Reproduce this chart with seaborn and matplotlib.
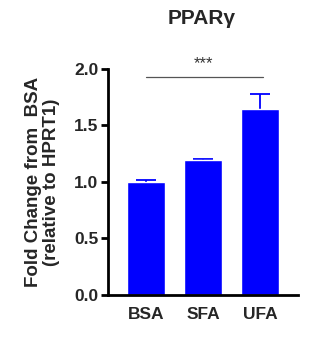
import matplotlib
matplotlib.use("Agg")
import matplotlib.pyplot as plt
import seaborn as sns
import pandas as pd
import numpy as np

categories = ["BSA", "SFA", "UFA"]
means = [1.00, 1.195, 1.645]
sems = [0.022, 0.008, 0.13]
title = "PPARγ"
ylabel = "Fold Change from  BSA\n(relative to HPRT1)"
yticks = [0.0, 0.5, 1.0, 1.5, 2.0]
sig_text = "***"
sig_level = 1.93

sns.set_theme(style="white")
plt.rcParams["font.family"] = ["Liberation Sans", "DejaVu Sans"]

df = pd.DataFrame({"group": categories, "value": means})

fig = plt.figure(figsize=(3.29, 3.39), dpi=100)
ax = fig.add_axes([0.328, 0.1298, 0.578, 0.6667])

sns.barplot(data=df, x="group", y="value", color="#0000ff", saturation=1,
            width=0.667, errorbar=None, ax=ax)
for p in ax.patches:
    p.set_zorder(3)
xs = np.arange(len(categories))
tops = np.array(means) + np.array(sems)
ax.vlines(xs, means, tops, color="#0000ff", lw=1.3, zorder=2)
ax.hlines(tops, xs - 0.17, xs + 0.17, color="#0000ff", lw=1.3, zorder=2)

ax.set_xlim(-0.667, 2.667)
ax.set_ylim(0, 2.0)
ax.set_yticks(yticks)
ax.set_yticklabels([f"{t:.1f}" for t in yticks], fontsize=12.5, fontweight="bold")
ax.set_xticks(xs)
ax.set_xticklabels(categories, fontsize=12.5, fontweight="bold")
ax.set_xlabel("")
ax.set_ylabel(ylabel, fontsize=13.5, fontweight="bold", labelpad=10, linespacing=1.05)

for s in ["top", "right"]:
    ax.spines[s].set_visible(False)
for s in ["left", "bottom"]:
    ax.spines[s].set_linewidth(2)
    ax.spines[s].set_color("black")
    ax.spines[s].set_zorder(4)
ax.tick_params(axis="y", direction="out", length=5, width=2, color="black", pad=2, left=True)
ax.tick_params(axis="x", length=0, pad=9)

ax.plot([0.0, 2.05], [sig_level, sig_level], color="#555555", lw=0.9, clip_on=False)
ax.text(1.0, sig_level + 0.05, sig_text, ha="center", va="bottom", fontsize=12, color="#333333")

fig.text(0.612, 0.945, title, ha="center", va="center", fontsize=15, fontweight="bold")

fig.savefig("out.png", dpi=100)
